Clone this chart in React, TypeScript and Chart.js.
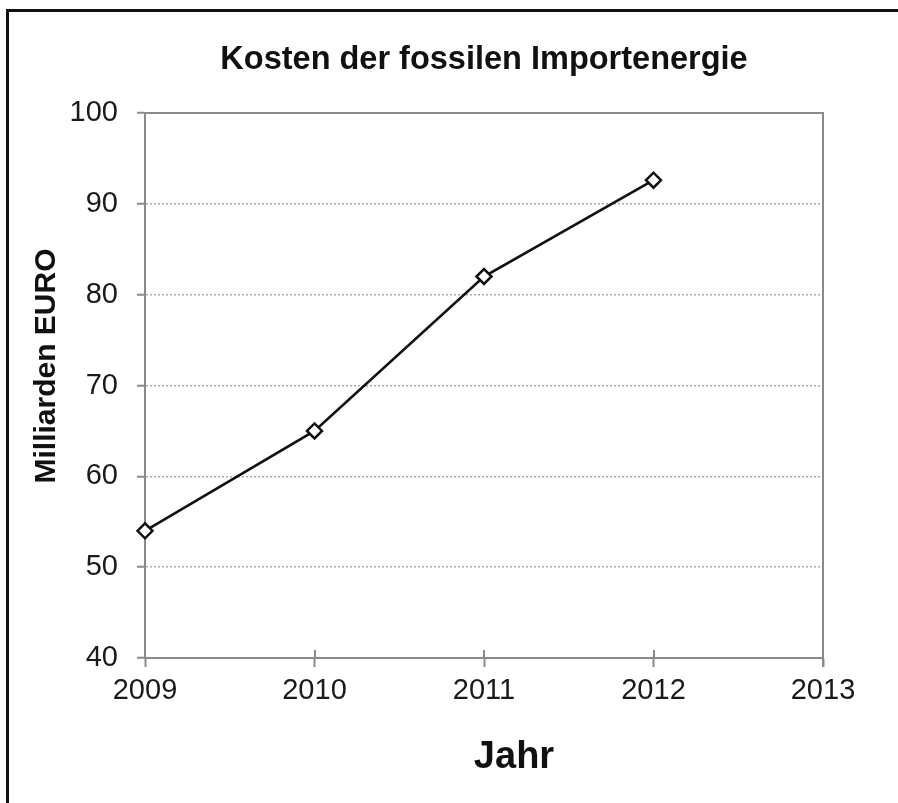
import { useEffect, useRef } from "react";
import { Chart, registerables } from "chart.js";

Chart.register(...registerables);

const years = [2009, 2010, 2011, 2012];
const costs = [54, 65, 82, 92.6];
const xRange = [2009, 2013];
const yRange = [40, 100];
const yStep = 10;
const chartTitle = "Kosten der fossilen Importenergie";
const yTitle = "Milliarden EURO";
const xTitle = "Jahr";

const FONT = '"Liberation Sans", Arial, Helvetica, sans-serif';

export default function App() {
  const ref = useRef<HTMLCanvasElement>(null);

  useEffect(() => {
    if (!ref.current) return;
    const decor = {
      id: "decor",
      beforeDraw(chart: any) {
        const c = chart.ctx;
        c.save();
        c.fillStyle = "#ffffff";
        c.fillRect(0, 0, chart.width, chart.height);
        c.fillStyle = "#111111";
        c.fillRect(6, 9, 3, chart.height - 9);
        c.fillRect(6, 9, chart.width - 6, 3);
        c.restore();
      },
      beforeDatasetsDraw(chart: any) {
        const c = chart.ctx;
        const a = chart.chartArea;
        c.save();
        c.strokeStyle = "#8a8a8a";
        c.lineWidth = 2;
        c.beginPath();
        c.moveTo(a.left, a.top);
        c.lineTo(a.right, a.top);
        c.lineTo(a.right, a.bottom + 9);
        c.stroke();
        const xs = chart.scales.x;
        c.beginPath();
        xs.ticks.forEach((t: any) => {
          const px = Math.round(xs.getPixelForValue(t.value));
          c.moveTo(px, a.bottom - 8);
          c.lineTo(px, a.bottom);
        });
        c.stroke();
        c.restore();
      },
      afterDraw(chart: any) {
        const c = chart.ctx;
        const a = chart.chartArea;
        c.save();
        c.fillStyle = "#111111";
        c.textAlign = "center";
        c.textBaseline = "middle";
        c.font = `bold 32.5px ${FONT}`;
        c.fillText(chartTitle, (a.left + a.right) / 2, 60);
        c.font = `bold 38px ${FONT}`;
        c.fillText(xTitle, (a.left + a.right) / 2 + 30, 758);
        c.translate(47, 366);
        c.rotate(-Math.PI / 2);
        c.font = `bold 30px ${FONT}`;
        c.fillText(yTitle, 0, 0);
        c.restore();
      },
    };

    const chart = new Chart(ref.current, {
      type: "line",
      data: {
        datasets: [
          {
            data: years.map((y, i) => ({ x: y, y: costs[i] })),
            borderColor: "#111111",
            borderWidth: 2.6,
            pointStyle: "rectRot",
            pointRadius: 7.5,
            pointBackgroundColor: "#ffffff",
            pointBorderColor: "#111111",
            pointBorderWidth: 2.5,
            clip: false,
            tension: 0,
          },
        ],
      },
      options: {
        animation: false,
        responsive: false,
        layout: { padding: { left: 0, top: 113, right: 75, bottom: 0 } },
        plugins: {
          legend: { display: false },
          title: { display: false },
          tooltip: { enabled: false },
        },
        scales: {
          x: {
            type: "linear",
            min: xRange[0],
            max: xRange[1],
            afterFit: (s: any) => {
              s.height = 145;
            },
            ticks: {
              stepSize: 1,
              padding: 7,
              color: "#1a1a1a",
              font: { family: FONT, size: 29 },
              callback: (v: any) => String(v),
              maxRotation: 0,
            },
            grid: {
              drawOnChartArea: false,
              drawTicks: true,
              tickLength: 9,
              tickColor: "#8a8a8a",
              tickWidth: 2,
            },
            border: { display: true, color: "#8a8a8a", width: 2 },
          },
          y: {
            min: yRange[0],
            max: yRange[1],
            afterFit: (s: any) => {
              s.width = 145;
            },
            ticks: {
              stepSize: yStep,
              padding: 19,
              color: "#1a1a1a",
              font: { family: FONT, size: 29 },
            },
            grid: {
              color: "#a8a8a8",
              lineWidth: 1.5,
              drawTicks: true,
              tickLength: 8,
              tickColor: "#8a8a8a",
              tickWidth: 2,
              tickBorderDash: [],
            },
            border: { display: true, color: "#8a8a8a", width: 2, dash: [2, 2] },
          },
        },
      },
      plugins: [decor],
    });

    return () => chart.destroy();
  }, []);

  return (
    <div style={{ position: "fixed", left: 0, top: 0, width: 898, height: 803, background: "#fff" }}>
      <canvas ref={ref} width={898} height={803} style={{ display: "block" }} />
    </div>
  );
}
